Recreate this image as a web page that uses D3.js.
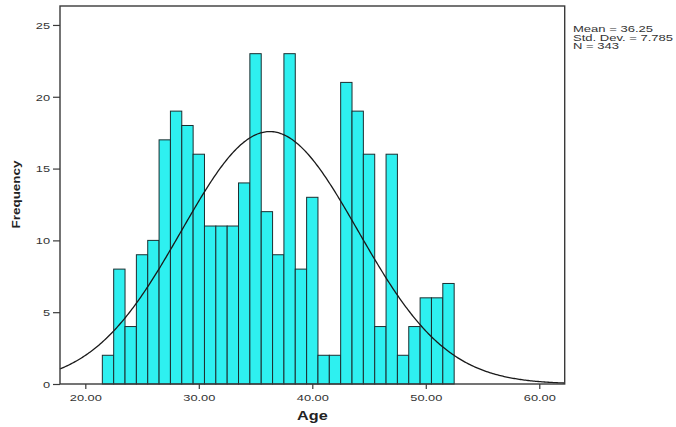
<!DOCTYPE html>
<html><head><meta charset="utf-8">
<script src="https://cdn.jsdelivr.net/npm/d3@7"></script>
<style>body{margin:0;background:#fff}svg{display:block}text{font-family:"Liberation Sans",Arial,sans-serif}</style>
</head><body><svg id="c" width="676" height="427"></svg>
<script>
const binCenters = [22,23,24,25,26,27,28,29,30,31,32,33,34,35,36,37,38,39,40,41,42,43,44,45,46,47,48,49,50,51,52];
const counts     = [2,8,4,9,10,17,19,18,16,11,11,11,14,23,12,9,23,8,13,2,2,21,19,16,4,16,2,4,6,6,7];
const binWidth = 1;
const xTicks = [20,30,40,50,60];
const yTicks = [0,5,10,15,20,25];
const stats = {mean:36.25, sd:7.785, n:343};
const statLabels = ["Mean = 36.25","Std. Dev. = 7.785","N = 343"];

const svg = d3.select("#c");
const L=60,R=564.7,T=6,B=384;
const x = d3.scaleLinear().domain([17.77,62.24]).range([L,R]);
const y = d3.scaleLinear().domain([0,26.32]).range([B,T]);

// bars
svg.append("g").selectAll("rect").data(binCenters).join("rect")
  .attr("x",(d)=>x(d-binWidth/2)).attr("width",(d)=>x(d+binWidth/2)-x(d-binWidth/2))
  .attr("y",(d,i)=>y(counts[i])).attr("height",(d,i)=>B-y(counts[i]))
  .attr("fill","#2ef0f0").attr("stroke","#1c2e30").attr("stroke-width",1);

// normal curve
const pts = d3.range(0,401).map(i=>{
  const v = 17.77 + (62.24-17.77)*i/400;
  const z = (v-stats.mean)/stats.sd;
  return [v, stats.n*binWidth*Math.exp(-0.5*z*z)/(stats.sd*Math.sqrt(2*Math.PI))];
});
svg.append("path").datum(pts)
  .attr("d",d3.line().x(d=>x(d[0])).y(d=>y(d[1])))
  .attr("fill","none").attr("stroke","#1a1a1a").attr("stroke-width",1.3);

// frame
svg.append("rect").attr("x",L).attr("y",T).attr("width",R-L).attr("height",B-T)
  .attr("fill","none").attr("stroke","#3a3a3a").attr("stroke-width",1.4);

// axes
const xa = svg.append("g").attr("transform",`translate(0,${B})`)
  .call(d3.axisBottom(x).tickValues(xTicks).tickFormat(d3.format(".2f")).tickSize(5).tickSizeOuter(0));
xa.select(".domain").remove();
xa.selectAll("line").attr("stroke","#3a3a3a").attr("stroke-width",1.2);
xa.selectAll("text").attr("y",0).attr("dy",0).attr("transform","translate(0,16.7) scale(1.35,1)")
  .attr("font-size",9.5).attr("fill","#333");

const ya = svg.append("g").attr("transform",`translate(${L},0)`)
  .call(d3.axisLeft(y).tickValues(yTicks).tickSize(7).tickSizeOuter(0));
ya.select(".domain").remove();
ya.selectAll("line").attr("stroke","#3a3a3a").attr("stroke-width",1.2);
ya.selectAll("text").attr("x",0).attr("dy","0.34em").attr("transform","translate(-10,0) scale(1.35,1)")
  .attr("font-size",9.5).attr("fill","#333");

// axis titles
svg.append("text").attr("transform",`translate(${(L+R)/2},419.5) scale(1.35,1)`)
  .attr("text-anchor","middle").attr("font-size",12).attr("font-weight","bold").attr("fill","#222").text("Age");
svg.append("text").attr("transform",`translate(20,194.5) rotate(-90) scale(1.28,1)`)
  .attr("text-anchor","middle").attr("font-size",10.5).attr("font-weight","bold").attr("fill","#222").text("Frequency");

// stats legend
svg.append("g").selectAll("text").data(statLabels).join("text")
  .attr("transform",(d,i)=>`translate(573,${32.3+i*8.3}) scale(1.45,1)`)
  .attr("font-size",9).attr("fill","#333").text(d=>d);
</script></body></html>
